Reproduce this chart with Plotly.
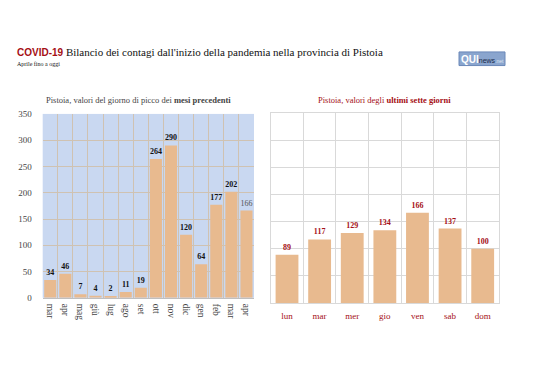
import plotly.graph_objects as go

months = ["mar", "apr", "mag", "giù", "lug", "ago", "set", "ott", "nov", "dic", "gen", "feb", "mar ", "apr "]
month_vals = [34, 46, 7, 4, 2, 11, 19, 264, 290, 120, 64, 177, 202, 166]
days = ["lun", "mar", "mer", "gio", "ven", "sab", "dom"]
day_vals = [89, 117, 129, 134, 166, 137, 100]
y_ticks = [0, 50, 100, 150, 200, 250, 300, 350]

OFF = 8  # browser default body margin
W, H = 538 - OFF, 380 - OFF
SERIF = "Liberation Serif"
BAR = "#E8BA8F"
RED = "#A50F15"

def fx(px):
    return (px - OFF) / W

def fy(py):
    return 1 - (py - OFF) / H

left_text = ["<b>%d</b>" % v for v in month_vals[:-1]] + ["%d" % month_vals[-1]]
left_colors = ["#111111"] * (len(month_vals) - 1) + ["#555555"]

fig = go.Figure()
fig.add_trace(go.Bar(
    x=months, y=month_vals, marker_color=BAR, marker_line_width=0,
    text=left_text, textposition="outside", cliponaxis=False,
    textfont=dict(family=SERIF, size=8, color=left_colors),
    xaxis="x", yaxis="y", hoverinfo="skip",
))
fig.add_trace(go.Bar(
    x=days, y=day_vals, marker_color=BAR, marker_line_width=0, width=0.7,
    text=["<b>%d</b>" % v for v in day_vals], textposition="outside", cliponaxis=False,
    textfont=dict(family=SERIF, size=8, color=RED),
    xaxis="x2", yaxis="y2", hoverinfo="skip",
))

fig.update_layout(
    width=W, height=H, margin=dict(l=0, r=0, t=0, b=0),
    paper_bgcolor="white", showlegend=False, bargap=0.2,
    font=dict(family=SERIF, size=9, color="#444444"),
    xaxis=dict(domain=[fx(42.7), fx(254)], anchor="y", type="category",
               tickson="boundaries", showgrid=True, gridcolor="#CFC2B2", gridwidth=1,
               tickangle=90, tickfont=dict(size=9.5, color="#444444"),
               ticks="", ticklabelstandoff=3,
               showline=True, linecolor="#BFBFBF", zeroline=False),
    yaxis=dict(domain=[fy(300.7), fy(111.7)], anchor="x", range=[0, 350],
               tickvals=y_ticks, showgrid=True, gridcolor="#CFC2B2", gridwidth=1,
               tickfont=dict(size=9, color="#444444"), ticks="", zeroline=False,
               ticklabelstandoff=10, showline=False),
    plot_bgcolor="#C9D8F1",
    xaxis2=dict(domain=[fx(270.7), fx(499)], anchor="y2", type="category",
                tickson="boundaries", showgrid=True, gridcolor="#D9D9D9", gridwidth=1,
                tickfont=dict(size=9, color=RED), ticks="", ticklabelstandoff=4,
                showline=True, mirror=True, linecolor="#D9D9D9", zeroline=False),
    yaxis2=dict(domain=[fy(306), fy(110.7)], anchor="x2", range=[0, 350],
                tickvals=y_ticks, showgrid=True, gridcolor="#D9D9D9", gridwidth=1,
                showticklabels=False, ticks="", zeroline=False,
                showline=True, mirror=True, linecolor="#D9D9D9"),
)

# white background for right plot area
fig.add_shape(type="rect", xref="paper", yref="paper",
              x0=fx(270.7), x1=fx(499), y0=fy(306), y1=fy(110.7),
              fillcolor="white", line_width=0, layer="below")

annotations = [
    dict(x=fx(15), y=fy(56), xanchor="left", yanchor="bottom",
         text="<span style='font-family:Liberation Sans;font-size:10px;color:#A50F15'><b>COVID-19</b></span> Bilancio dei contagi dall'inizio della pandemia nella provincia di Pistoia",
         font=dict(family=SERIF, size=11, color="#111111")),
    dict(x=fx(15), y=fy(66), xanchor="left", yanchor="bottom",
         text="Aprile fino a oggi", font=dict(family=SERIF, size=6, color="#111111")),
    dict(x=fx(138), y=fy(105), xanchor="center", yanchor="bottom",
         text="Pistoia, valori del giorno di picco dei <b>mesi precedenti</b>",
         font=dict(family=SERIF, size=8.5, color="#444444")),
    dict(x=fx(384), y=fy(105), xanchor="center", yanchor="bottom",
         text="Pistoia, valori degli <b>ultimi sette giorni</b>",
         font=dict(family=SERIF, size=8.5, color=RED)),
    dict(x=fx(482), y=fy(55.5), xanchor="center", yanchor="middle",
         text="<b>QUI</b><span style='font-size:7px;color:#1a2a4a'>news</span><span style='font-size:5px;color:#dfe6f2'>.net</span>",
         font=dict(family="Liberation Sans", size=10, color="white")),
]
for a in annotations:
    a["showarrow"] = False
    a["xref"] = "paper"
    a["yref"] = "paper"
fig.update_layout(annotations=annotations)

fig.add_shape(type="rect", xref="paper", yref="paper",
              x0=fx(459), x1=fx(505), y0=fy(62), y1=fy(48),
              fillcolor="#8AA5CE", line=dict(color="#6A88B8", width=1), layer="below")

fig.write_html("out.html")
